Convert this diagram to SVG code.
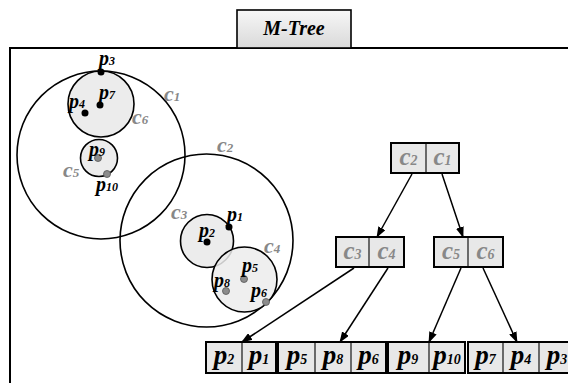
<svg xmlns="http://www.w3.org/2000/svg" width="568" height="383" viewBox="0 0 568 383">
<defs>
<linearGradient id="tg" x1="0" y1="0" x2="0" y2="1">
<stop offset="0" stop-color="#f7f7f7"/>
<stop offset="1" stop-color="#d9d9d9"/>
</linearGradient>
<marker id="ah" markerUnits="userSpaceOnUse" markerWidth="11" markerHeight="8" refX="10" refY="4" orient="auto">
<path d="M0,0 L11,4 L0,8 z" fill="#000"/>
</marker>
</defs>
<style>
.t{font-family:"Liberation Serif","Times New Roman",serif;font-weight:bold;font-style:italic}
.p{font-size:20px;fill:#000}
.c{font-size:22px;fill:#888}
.s{font-size:12px}
.sc{font-size:13px}
.big{font-size:25px}
.leaf{font-size:27px}
.bs{font-size:14px}
.ring{fill:none;stroke:#000;stroke-width:1.6}
.sh{fill:#ececec;stroke:#000;stroke-width:1.6}
.dk{fill:#000}
.gr{fill:#8c8c8c;stroke:#555;stroke-width:0.8}
.box{fill:#e8e8e8;stroke:#000;stroke-width:2}
.div{stroke:#000;stroke-width:1.1}
.edge{stroke:#000;stroke-width:1.5;fill:none;marker-end:url(#ah)}
</style>
<rect width="568" height="383" fill="#fff"/>
<rect x="10" y="48" width="570" height="345" fill="none" stroke="#000" stroke-width="2"/>
<g id="title">
<rect x="237" y="10" width="114" height="38" fill="url(#tg)" stroke="#000" stroke-width="1.6"/>
<text class="t" x="294" y="35" font-size="20" text-anchor="middle">M-Tree</text>
</g>
<g id="space">
<circle class="ring" cx="101" cy="155" r="84"/>
<circle class="ring" cx="206.5" cy="240.5" r="86.5"/>
<circle class="sh" cx="101" cy="104" r="33"/>
<circle class="sh" cx="99" cy="158" r="18.5"/>
<circle class="sh" cx="207" cy="241" r="26.5"/>
<circle cx="244.5" cy="279.5" r="32.5" fill="#ececec" fill-opacity="0.85" stroke="#000" stroke-width="1.6"/>
<circle class="dk" cx="101" cy="72" r="3.5"/>
<circle class="dk" cx="100" cy="105" r="3.5"/>
<circle class="dk" cx="85" cy="113" r="3.5"/>
<circle class="gr" cx="98" cy="158" r="3.5"/>
<circle class="gr" cx="107" cy="174" r="3.5"/>
<circle class="dk" cx="229" cy="227" r="3.5"/>
<circle class="dk" cx="207" cy="242" r="3.5"/>
<circle class="gr" cx="244" cy="279" r="3.5"/>
<circle class="gr" cx="226" cy="291" r="3.5"/>
<circle class="gr" cx="266" cy="302" r="3.5"/>
<text class="t p" x="99" y="65">p<tspan class="s">3</tspan></text>
<text class="t p" x="99" y="99">p<tspan class="s">7</tspan></text>
<text class="t p" x="69" y="108">p<tspan class="s">4</tspan></text>
<text class="t p" x="89" y="156">p<tspan class="s">9</tspan></text>
<text class="t p" x="96" y="191">p<tspan class="s">10</tspan></text>
<text class="t p" x="227" y="221">p<tspan class="s">1</tspan></text>
<text class="t p" x="199" y="237">p<tspan class="s">2</tspan></text>
<text class="t p" x="242" y="272">p<tspan class="s">5</tspan></text>
<text class="t p" x="214" y="287">p<tspan class="s">8</tspan></text>
<text class="t p" x="251" y="297">p<tspan class="s">6</tspan></text>
<text class="t c" x="164" y="101">c<tspan class="sc">1</tspan></text>
<text class="t c" x="132" y="124">c<tspan class="sc">6</tspan></text>
<text class="t c" x="63" y="177">c<tspan class="sc">5</tspan></text>
<text class="t c" x="217" y="152">c<tspan class="sc">2</tspan></text>
<text class="t c" x="171" y="219">c<tspan class="sc">3</tspan></text>
<text class="t c" x="264" y="253">c<tspan class="sc">4</tspan></text>
</g>
<g id="connectors">
<line class="edge" x1="412" y1="174" x2="377" y2="237"/>
<line class="edge" x1="442" y1="174" x2="463" y2="237"/>
<line class="edge" x1="354" y1="268" x2="242" y2="342"/>
<line class="edge" x1="388" y1="268" x2="340" y2="342"/>
<line class="edge" x1="461" y1="268" x2="429" y2="342"/>
<line class="edge" x1="483" y1="268" x2="517" y2="342"/>
</g>
<g id="root">
<rect class="box" x="391" y="143" width="68" height="30"/>
<line class="div" x1="426" y1="143" x2="426" y2="173"/>
<text class="t big" fill="#888" x="408.5" y="165" text-anchor="middle">c<tspan class="bs">2</tspan></text>
<text class="t big" fill="#888" x="442.5" y="165" text-anchor="middle">c<tspan class="bs">1</tspan></text>
</g>
<g id="n34">
<rect class="box" x="336" y="237" width="68" height="30"/>
<line class="div" x1="369" y1="237" x2="369" y2="267"/>
<text class="t big" fill="#888" x="352.5" y="259" text-anchor="middle">c<tspan class="bs">3</tspan></text>
<text class="t big" fill="#888" x="386.5" y="259" text-anchor="middle">c<tspan class="bs">4</tspan></text>
</g>
<g id="n56">
<rect class="box" x="434" y="237" width="69" height="30"/>
<line class="div" x1="468" y1="237" x2="468" y2="267"/>
<text class="t big" fill="#888" x="451" y="259" text-anchor="middle">c<tspan class="bs">5</tspan></text>
<text class="t big" fill="#888" x="485.5" y="259" text-anchor="middle">c<tspan class="bs">6</tspan></text>
</g>
<g id="leaf1">
<rect class="box" x="206" y="342" width="70" height="31"/>
<line class="div" x1="242" y1="342" x2="242" y2="373"/>
<text class="t leaf" x="224" y="364" text-anchor="middle">p<tspan class="bs">2</tspan></text>
<text class="t leaf" x="259" y="364" text-anchor="middle">p<tspan class="bs">1</tspan></text>
</g>
<g id="leaf2">
<rect class="box" x="278" y="342" width="108" height="31"/>
<line class="div" x1="315" y1="342" x2="315" y2="373"/>
<line class="div" x1="351" y1="342" x2="351" y2="373"/>
<text class="t leaf" x="297" y="364" text-anchor="middle">p<tspan class="bs">5</tspan></text>
<text class="t leaf" x="333" y="364" text-anchor="middle">p<tspan class="bs">8</tspan></text>
<text class="t leaf" x="368.5" y="364" text-anchor="middle">p<tspan class="bs">6</tspan></text>
</g>
<g id="leaf3">
<rect class="box" x="388" y="342" width="77" height="31"/>
<line class="div" x1="429" y1="342" x2="429" y2="373"/>
<text class="t leaf" x="408" y="364" text-anchor="middle">p<tspan class="bs">9</tspan></text>
<text class="t leaf" x="447" y="364" text-anchor="middle">p<tspan class="bs">10</tspan></text>
</g>
<g id="leaf4">
<rect class="box" x="468" y="342" width="107" height="31"/>
<line class="div" x1="503" y1="342" x2="503" y2="373"/>
<line class="div" x1="539" y1="342" x2="539" y2="373"/>
<text class="t leaf" x="485.5" y="364" text-anchor="middle">p<tspan class="bs">7</tspan></text>
<text class="t leaf" x="521" y="364" text-anchor="middle">p<tspan class="bs">4</tspan></text>
<text class="t leaf" x="557" y="364" text-anchor="middle">p<tspan class="bs">3</tspan></text>
</g>
</svg>
